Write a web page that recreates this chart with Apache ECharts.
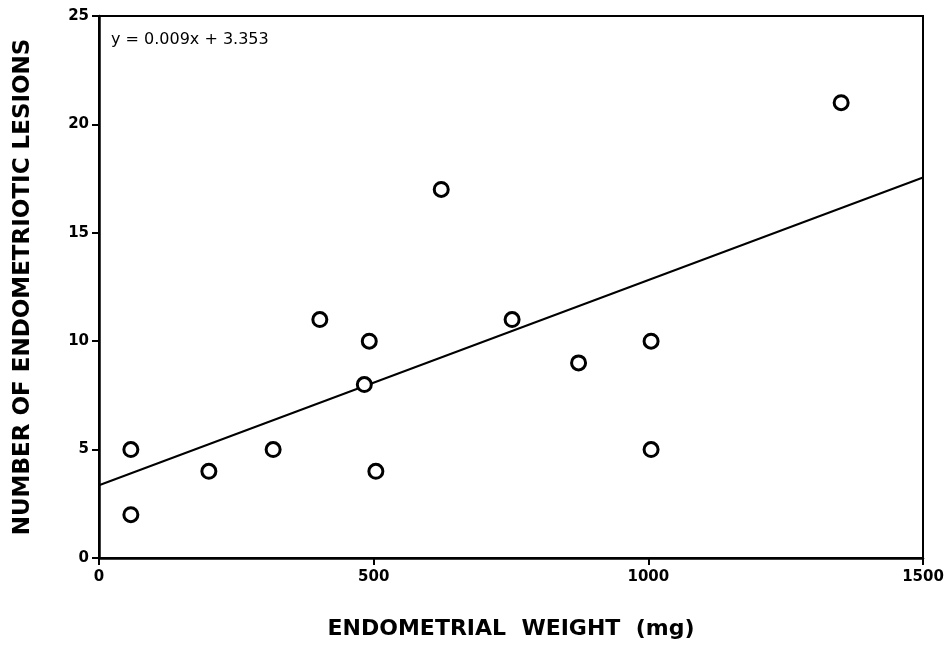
<!DOCTYPE html>
<html>
<head>
<meta charset="utf-8">
<script src="https://cdn.jsdelivr.net/npm/echarts@6/dist/echarts.min.js"></script>
<style>html,body{margin:0;padding:0;background:#fff;}#c{width:948px;height:651px;}</style>
</head>
<body>
<div id="c"></div>
<script>
// Endometrial weight (mg) vs number of endometriotic lesions
const weights = [58, 58, 200, 317, 402, 483, 492, 504, 623, 752, 873, 1005, 1005, 1351];
const lesions = [5, 2, 4, 5, 11, 8, 10, 4, 17, 11, 9, 10, 5, 21];
const fitX = [0, 1500];
const fitY = [3.353, 17.55];
const xTicks = [0, 500, 1000, 1500];
const yTicks = [0, 5, 10, 15, 20, 25];
const equation = 'y = 0.009x + 3.353';
const xTitle = 'ENDOMETRIAL  WEIGHT  (mg)';
const yTitle = 'NUMBER OF ENDOMETRIOTIC LESIONS';

const chart = echarts.init(document.getElementById('c'));
const font = '"DejaVu Sans", "Liberation Sans", Arial, sans-serif';
chart.setOption({
  animation: false,
  backgroundColor: '#fff',
  grid: { left: 99, right: 25, top: 16, bottom: 93, show: true, borderColor: '#000', borderWidth: 2,
          containLabel: false, outerBoundsMode: 'none' },
  xAxis: {
    type: 'value', min: 0, max: 1500, interval: 500,
    name: xTitle, nameLocation: 'middle', nameGap: 60,
    nameTextStyle: { fontFamily: font, fontWeight: 'bold', fontSize: 22, color: '#000' },
    axisLine: { show: true, lineStyle: { color: '#000', width: 2.5 } },
    axisTick: { show: true, length: 7, lineStyle: { color: '#000', width: 2 } },
    axisLabel: { fontFamily: font, fontWeight: 'bold', fontSize: 15, color: '#000', margin: 12,
                 formatter: v => xTicks.includes(v) ? String(v) : '' },
    splitLine: { show: false }
  },
  yAxis: {
    type: 'value', min: 0, max: 25, interval: 5,
    name: yTitle, nameLocation: 'middle', nameGap: 64, nameRotate: 90,
    nameTextStyle: { fontFamily: font, fontWeight: 'bold', fontSize: 23, color: '#000' },
    axisLine: { show: true, lineStyle: { color: '#000', width: 2.5 } },
    axisTick: { show: true, length: 7, lineStyle: { color: '#000', width: 2 } },
    axisLabel: { fontFamily: font, fontWeight: 'bold', fontSize: 15, color: '#000', margin: 10,
                 formatter: v => yTicks.includes(v) ? String(v) : '' },
    splitLine: { show: false }
  },
  graphic: [{
    type: 'text', left: 111, top: 32,
    style: { text: equation, fontFamily: font, fontSize: 16, fill: '#000' }
  }],
  series: [
    {
      type: 'line', data: fitX.map((x, i) => [x, fitY[i]]),
      symbol: 'none', lineStyle: { color: '#000', width: 2 }, z: 2
    },
    {
      type: 'scatter', data: weights.map((x, i) => [x, lesions[i]]),
      symbol: 'circle', symbolSize: 14,
      itemStyle: { color: '#fff', borderColor: '#000', borderWidth: 3, opacity: 1 }, z: 3
    }
  ]
});
</script>
</body>
</html>
